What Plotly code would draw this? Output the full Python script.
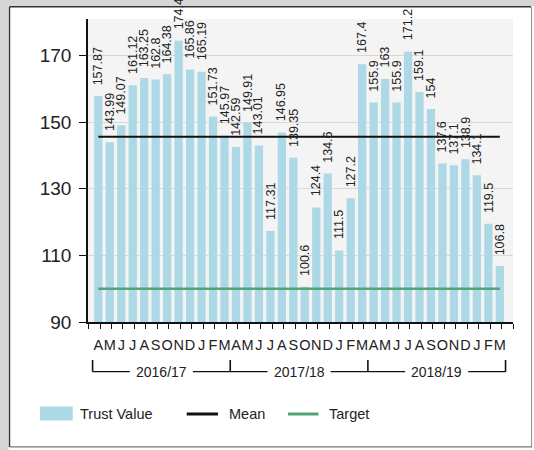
import plotly.graph_objects as go
import numpy as np

# ---------------- data ----------------
month_labels = ["A", "M", "J", "J", "A", "S", "O", "N", "D", "J", "F", "M"] * 3
year_labels = ["2016/17", "2017/18", "2018/19"]
trust_value = [157.87, 143.99, 149.07, 161.12, 163.25, 162.8, 164.38, 174.48, 165.86, 165.19, 151.73, 145.97,
               142.59, 149.91, 143.01, 117.31, 146.95, 139.35, 100.6, 124.4, 134.6, 111.5, 127.2, 167.4,
               155.9, 163, 155.9, 171.2, 159.1, 154, 137.6, 137.1, 138.9, 134.1, 119.5, 106.8]
target_value = 100
y_ticks = [90, 110, 130, 150, 170]
legend_names = ["Trust Value", "Mean", "Target"]

# ---------------- layout constants ----------------
W, H = 534, 450
ML, MR, MT, MB = 88, 21, 19, 128
PW, PH = W - ML - MR, H - MT - MB
FONT = "Liberation Sans, Arial, sans-serif"
TXT = "#222222"
BAR_COLOR = "#add8e6"
MEAN_COLOR = "#111111"
TARGET_COLOR = "#4fa576"


def px(x):
    return (x - ML) / PW


def py(y):
    return (H - MB - y) / PH


n = len(trust_value)
xs = list(range(n))
mean_value = float(np.mean(trust_value))

fig = go.Figure()
fig.add_trace(go.Bar(x=xs, y=trust_value, marker=dict(color=BAR_COLOR, line=dict(width=0)),
                     width=0.72, name=legend_names[0], showlegend=False, hoverinfo="y"))
fig.add_trace(go.Scatter(x=[xs[0], xs[-1]], y=[mean_value, mean_value], mode="lines",
                         line=dict(color=MEAN_COLOR, width=2), name=legend_names[1], showlegend=False))
fig.add_trace(go.Scatter(x=[xs[0], xs[-1]], y=[target_value, target_value], mode="lines",
                         line=dict(color=TARGET_COLOR, width=2.5), name=legend_names[2], showlegend=False))

annotations = []
for i, v in enumerate(trust_value):
    annotations.append(dict(x=i, y=v, xref="x", yref="y", text=f"{v:g}", showarrow=False,
                            textangle=-90, yanchor="bottom", xanchor="center", yshift=9,
                            font=dict(family=FONT, size=12.5, color=TXT)))

shapes = []
# fiscal-year brackets
groups = [(-0.5, 11.5), (11.5, 23.5), (23.5, 35.5)]
yb = py(371.7)
ytop = py(360)
half_gap = 2.75
for (a, b), lab in zip(groups, year_labels):
    c = (a + b) / 2
    shapes.append(dict(type="line", xref="x", yref="paper", x0=a, x1=c - half_gap, y0=yb, y1=yb,
                       line=dict(color="#111", width=1.3)))
    shapes.append(dict(type="line", xref="x", yref="paper", x0=c + half_gap, x1=b, y0=yb, y1=yb,
                       line=dict(color="#111", width=1.3)))
    annotations.append(dict(x=c, y=yb, xref="x", yref="paper", text=lab, showarrow=False,
                            xanchor="center", yanchor="middle",
                            font=dict(family=FONT, size=14, color=TXT)))
for bnd in [-0.5, 11.5, 23.5, 35.5]:
    shapes.append(dict(type="line", xref="x", yref="paper", x0=bnd, x1=bnd, y0=yb, y1=ytop,
                       line=dict(color="#111", width=1.6)))

# custom legend
ly = py(414)
shapes.append(dict(type="rect", xref="paper", yref="paper", x0=px(40), x1=px(72.7),
                   y0=py(420.5), y1=py(406.5), fillcolor=BAR_COLOR, line=dict(width=0)))
shapes.append(dict(type="line", xref="paper", yref="paper", x0=px(186.7), x1=px(218), y0=ly, y1=ly,
                   line=dict(color=MEAN_COLOR, width=3)))
shapes.append(dict(type="line", xref="paper", yref="paper", x0=px(288), x1=px(318.5), y0=ly, y1=ly,
                   line=dict(color=TARGET_COLOR, width=3)))
for xpos, lab in zip([77.5, 226.5, 326.5], legend_names):
    annotations.append(dict(x=px(xpos), y=ly, xref="paper", yref="paper", text=lab, showarrow=False,
                            xanchor="left", yanchor="middle",
                            font=dict(family=FONT, size=14.5, color=TXT)))

# outer panel frame
shapes += [
    dict(type="rect", xref="paper", yref="paper", x0=px(0), x1=px(W), y0=py(0), y1=py(6),
         fillcolor="#d6d6d6", line=dict(width=0)),
    dict(type="rect", xref="paper", yref="paper", x0=px(0), x1=px(8.5), y0=py(0), y1=py(H),
         fillcolor="#d6d6d6", line=dict(width=0)),
    dict(type="line", xref="paper", yref="paper", x0=px(9.5), x1=px(531), y0=py(6.8), y1=py(6.8),
         line=dict(color="#333", width=1.4)),
    dict(type="line", xref="paper", yref="paper", x0=px(9.5), x1=px(9.5), y0=py(6.8), y1=py(447),
         line=dict(color="#333", width=1.4)),
    dict(type="line", xref="paper", yref="paper", x0=px(531.5), x1=px(531.5), y0=py(6.8), y1=py(447),
         line=dict(color="#999", width=1.2)),
    dict(type="line", xref="paper", yref="paper", x0=px(9.5), x1=px(532), y0=py(446.8), y1=py(446.8),
         line=dict(color="#777", width=1.2)),
]

fig.update_layout(
    width=W, height=H,
    margin=dict(l=ML, r=MR, t=MT, b=MB, pad=0, autoexpand=False),
    paper_bgcolor="white", plot_bgcolor="#f4f4f4",
    showlegend=False, bargap=0.28,
    font=dict(family=FONT, color=TXT),
    annotations=annotations, shapes=shapes,
    xaxis=dict(range=[-0.9, 36.15], tickmode="array", tickvals=xs, ticktext=month_labels,
               ticks="", showgrid=False, zeroline=False, showline=True, linecolor="#111", linewidth=1.5,
               tickfont=dict(family=FONT, size=14.5, color=TXT), ticklabelstandoff=9, tickangle=0,
               automargin=False,
               minor=dict(tickmode="array", tickvals=[k - 0.85 for k in range(38)], ticks="outside",
                          ticklen=5, tickcolor="#111", tickwidth=1.3, showgrid=False),
               fixedrange=True),
    yaxis=dict(range=[90, 181], tickmode="array", tickvals=y_ticks, ticks="outside", ticklen=7,
               tickcolor="#111", tickwidth=1.3, showgrid=True, gridcolor="#d8d8d8", gridwidth=1,
               zeroline=False, showline=True, linecolor="#111", linewidth=1.5,
               tickfont=dict(family=FONT, size=19, color=TXT), ticklabelstandoff=4,
               automargin=False, fixedrange=True),
)

fig.write_html("out.html", config={"displayModeBar": False},
               post_script="document.body.style.margin='0';document.body.style.overflow='hidden';")
